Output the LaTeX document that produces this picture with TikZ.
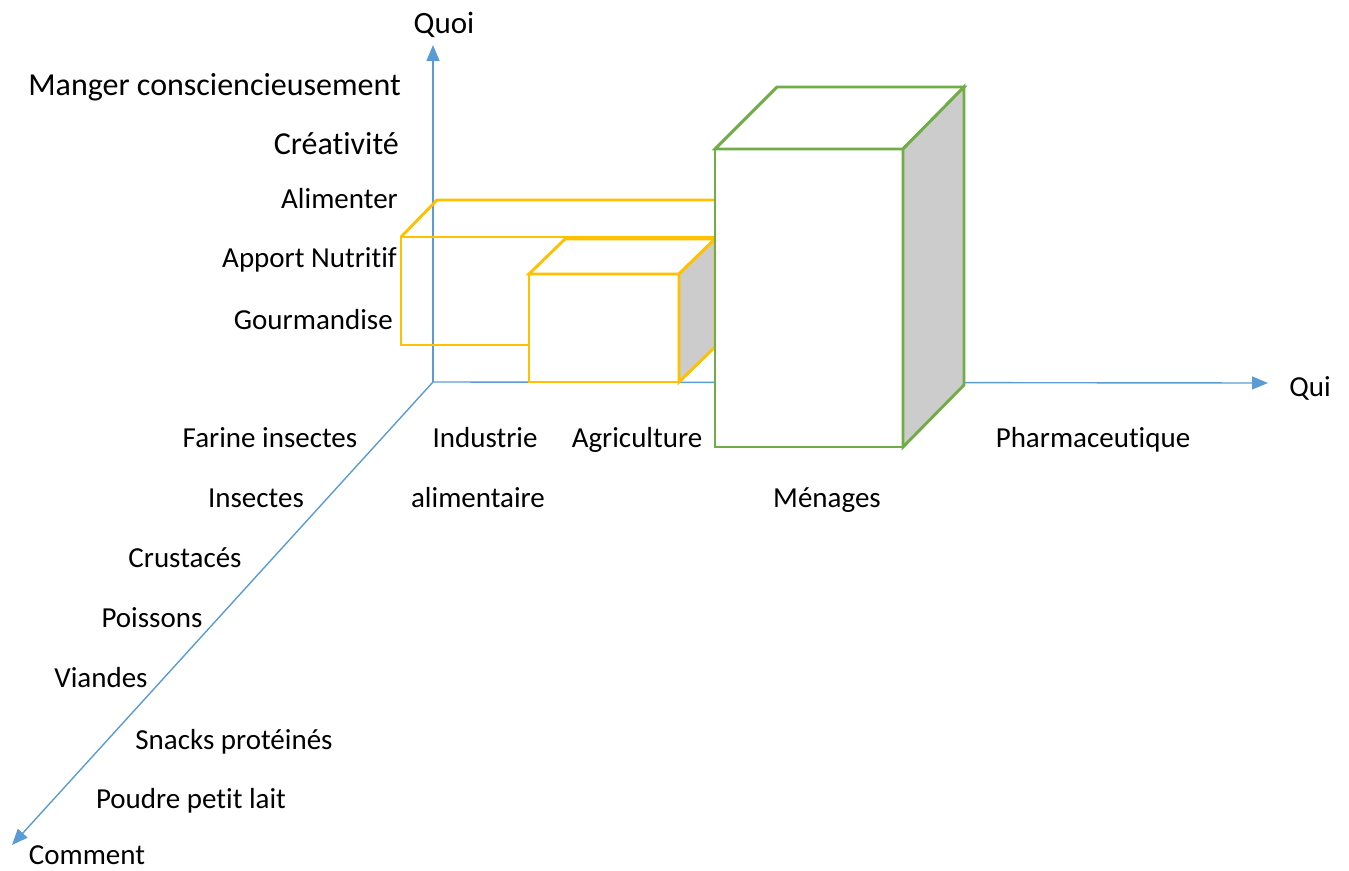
\documentclass[tikz,border=0pt]{standalone}
\usepackage{fontspec}
\setmainfont{Carlito}[Ligatures=NoCommon]
\usetikzlibrary{arrows.meta}
\definecolor{axisblue}{HTML}{5B9BD5}
\definecolor{boxyellow}{HTML}{FFC000}
\definecolor{boxgreen}{HTML}{70AD47}
\definecolor{sidegray}{HTML}{CCCCCC}
\begin{document}
\begin{tikzpicture}[x=1pt,y=-1pt,
  axis/.style={draw=axisblue,line width=1.4pt,-{Triangle[length=16pt,width=13pt]}},
  ybox/.style={draw=boxyellow,line width=2.9pt,line join=miter},
  gbox/.style={draw=boxgreen,line width=2.9pt,line join=miter},
  lbl/.style={font=\fontsize{29}{34}\selectfont,inner sep=0pt,anchor=base},
  lblr/.style={lbl,anchor=base east},
  big/.style={font=\fontsize{32}{38}\selectfont,inner sep=0pt,anchor=base east}]
\useasboundingbox (0,0) rectangle (1349,870);
% axes
\coordinate (O) at (433,382);
\coordinate (qtop) at (433,45);
\coordinate (qright) at (1268,383);
\coordinate (qdiag) at (12,845);
\draw[axis] (O) -- (qtop);
\draw[axis] (O) -- (qright);
\draw[axis] (O) -- (qdiag);
% large box behind
\draw[ybox] (715,345) -- (401,345) -- (401,237) -- (715,237);
\draw[ybox] (401,237) -- (437,200) -- (715,200);
% small box
\draw[ybox,fill=white] (529,274) rectangle (679,382);
\draw[ybox,fill=white] (529,274) -- (565,239) -- (715,239) -- (679,274) -- cycle;
\draw[ybox,fill=sidegray] (679,274) -- (715,239) -- (715,347) -- (679,382) -- cycle;
% tall box
\draw[gbox,fill=white] (715,149) rectangle (903,447);
\draw[gbox,fill=white] (715,149) -- (777,87) -- (964,87) -- (903,149) -- cycle;
\draw[gbox,fill=sidegray] (903,149) -- (964,87) -- (964,385) -- (903,447) -- cycle;
% axis titles
\node[lbl,font=\fontsize{31}{36}\selectfont] (tquoi) at (444,33) {Quoi};
\node[lbl] (tqui) at (1310,396) {Qui};
\node[lbl] (tcomment) at (87,864) {Comment};
% Quoi values
\node[big] (w1) at (401,95) {Manger consciencieusement};
\node[big] (w2) at (399,154) {Créativité};
\node[lblr] (w3) at (398,208) {Alimenter};
\node[lblr] (w4) at (397,267) {Apport Nutritif};
\node[lblr] (w5) at (393,329) {Gourmandise};
% Qui values
\node[lbl] (p1) at (485,447) {Industrie};
\node[lbl] (p2) at (478,507) {alimentaire};
\node[lbl] (p3) at (637,447) {Agriculture};
\node[lbl] (p4) at (827,507) {Ménages};
\node[lbl] (p5) at (1093,447) {Pharmaceutique};
% Comment values
\node[lbl] (c1) at (270,447) {Farine insectes};
\node[lbl] (c2) at (256,507) {Insectes};
\node[lbl] (c3) at (185,567) {Crustacés};
\node[lbl] (c4) at (152,627) {Poissons};
\node[lbl] (c5) at (101,687) {Viandes};
\node[lbl] (c6) at (234,749) {Snacks protéinés};
\node[lbl] (c7) at (191,808) {Poudre petit lait};
\end{tikzpicture}
\end{document}
